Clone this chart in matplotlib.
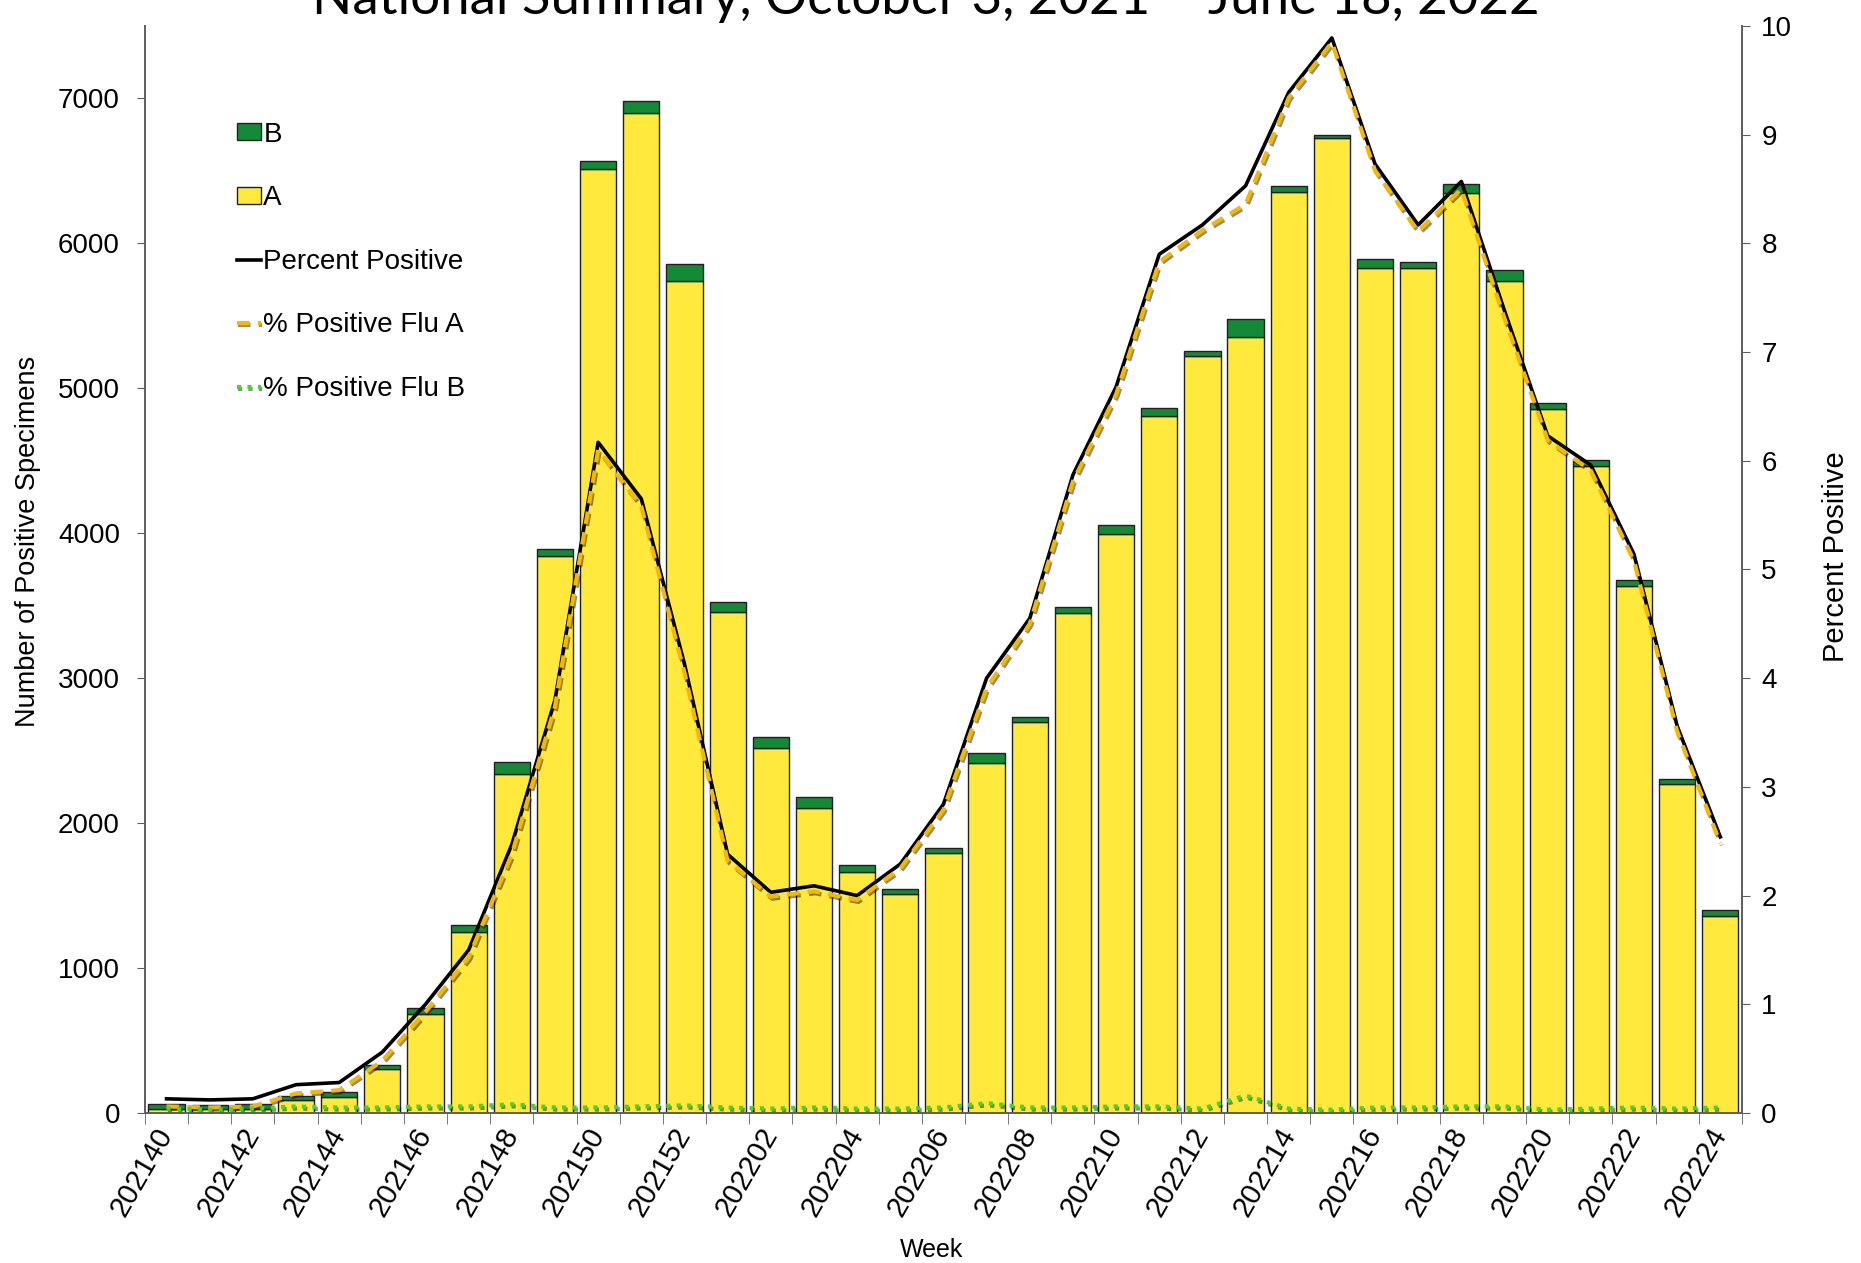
import matplotlib.pyplot as plt
import matplotlib.patheffects as pe
import numpy as np

plt.rcParams['font.family'] = ['Liberation Sans', 'DejaVu Sans']

# weeks 202140 .. 202224
weeks = [str(202100 + w) for w in range(40, 53)] + [str(202200 + w) for w in range(1, 25)]

flu_a = [30, 25, 25, 90, 110, 300, 680, 1250, 2340, 3840, 6510, 6900, 5740,
         3460, 2515, 2105, 1660, 1508, 1793, 2417, 2700, 3448, 3997, 4808,
         5225, 5356, 6355, 6724, 5832, 5831, 6347, 5741, 4857, 4463, 3636,
         2268, 1359]
flu_b = [34, 32, 35, 30, 32, 30, 45, 50, 80, 50, 57, 82, 115, 65, 82, 74,
         50, 40, 33, 65, 33, 41, 57, 57, 33, 123, 41, 25, 57, 41, 66, 74,
         41, 41, 41, 33, 41]

pct_pos = [0.13, 0.12, 0.13, 0.26, 0.28, 0.56, 1.0, 1.5, 2.47, 3.8, 6.17,
           5.65, 4.13, 2.38, 2.03, 2.09, 2.0, 2.29, 2.84, 4.0, 4.55, 5.87,
           6.68, 7.9, 8.17, 8.53, 9.39, 9.89, 8.73, 8.17, 8.57, 7.38, 6.23,
           5.96, 5.14, 3.56, 2.54]
pct_a = [0.06, 0.05, 0.06, 0.18, 0.21, 0.48, 0.93, 1.43, 2.38, 3.74, 6.1,
         5.58, 4.05, 2.32, 1.99, 2.04, 1.96, 2.25, 2.79, 3.91, 4.5, 5.81,
         6.61, 7.83, 8.12, 8.36, 9.34, 9.85, 8.67, 8.11, 8.5, 7.31, 6.19,
         5.91, 5.08, 3.51, 2.48]
pct_b = [0.04, 0.03, 0.04, 0.06, 0.05, 0.05, 0.06, 0.06, 0.08, 0.05, 0.05,
         0.06, 0.07, 0.05, 0.04, 0.05, 0.04, 0.04, 0.05, 0.09, 0.05, 0.05,
         0.06, 0.06, 0.04, 0.16, 0.04, 0.03, 0.05, 0.05, 0.06, 0.06, 0.03,
         0.04, 0.05, 0.04, 0.05]

x = np.arange(len(weeks))

fig = plt.figure(figsize=(18.61, 12.63), dpi=100)
ax = fig.add_axes([0.0779, 0.1188, 0.8581, 0.8606])
ax2 = ax.twinx()
ax.set_zorder(1)
ax2.set_zorder(2)
ax.patch.set_visible(False)

b_a = ax.bar(x, flu_a, width=0.84, color='#FFE93C', edgecolor='#202020', linewidth=1, label='A')
b_b = ax.bar(x, flu_b, width=0.84, bottom=flu_a, color='#138A36', edgecolor='#202020', linewidth=1, label='B')

shadow = [pe.SimpleLineShadow(offset=(1, -1.5), alpha=0.45), pe.Normal()]
l1, = ax2.plot(x, pct_pos, color='black', lw=2.6, label='Percent Positive')
l2, = ax2.plot(x, pct_a, color='#F5B800', lw=3, linestyle=(0, (3, 2)),
               label='% Positive Flu A', path_effects=shadow)
l3, = ax2.plot(x, pct_b, color='#44D62C', lw=3, linestyle=(0, (1, 1.5)),
               label='% Positive Flu B', path_effects=shadow)

ax.set_xlim(-0.5, len(weeks) - 0.5)
ax.set_ylim(0, 7500)
ax2.set_ylim(0, 10)
ax.set_yticks(range(0, 7001, 1000))
ax2.set_yticks(range(0, 11))

ax.set_xticks(x[::2])
ax.set_xticklabels(weeks[::2], rotation=60, ha='right', va='center',
                   rotation_mode='anchor', fontsize=21)
ax.set_xticks(np.arange(-0.5, len(weeks), 1), minor=True)
ax.tick_params(axis='x', which='major', length=0, pad=12)
ax.tick_params(axis='x', which='minor', length=8, color='#606060')
ax.tick_params(axis='y', labelsize=20, length=6, pad=12, color='#606060')
ax2.tick_params(axis='y', labelsize=20, length=6, pad=8, color='#606060')

for a in (ax, ax2):
    a.spines['top'].set_visible(False)
    for s in ('left', 'right', 'bottom'):
        a.spines[s].set_color('#606060')
        a.spines[s].set_linewidth(1.3)

ax.set_ylabel('Number of Positive Specimens', fontsize=19.5)
ax.yaxis.set_label_coords(-0.065, 0.526)
ax2.set_ylabel('Percent Positive', fontsize=21)
ax2.yaxis.set_label_coords(1.05, 0.512)
ax.set_xlabel('Week', fontsize=18, labelpad=0)
ax.xaxis.set_label_coords(0.4925, -0.115)

ax2.legend([b_b, b_a, l1, l2, l3],
           ['B', 'A', 'Percent Positive', '% Positive Flu A', '% Positive Flu B'],
           loc='upper left', bbox_to_anchor=(0.042, 0.935), frameon=False,
           fontsize=20, labelspacing=1.35, handlelength=0.85, handletextpad=0.1,
           handleheight=0.55)

fig.text(0.4975, 1 - 14 / 1263, 'National Summary, October 3, 2021 \u2013 June 18, 2022',
         ha='center', va='baseline', fontsize=38, family=['Lato', 'DejaVu Sans'])

plt.savefig('out.png', dpi=100)
